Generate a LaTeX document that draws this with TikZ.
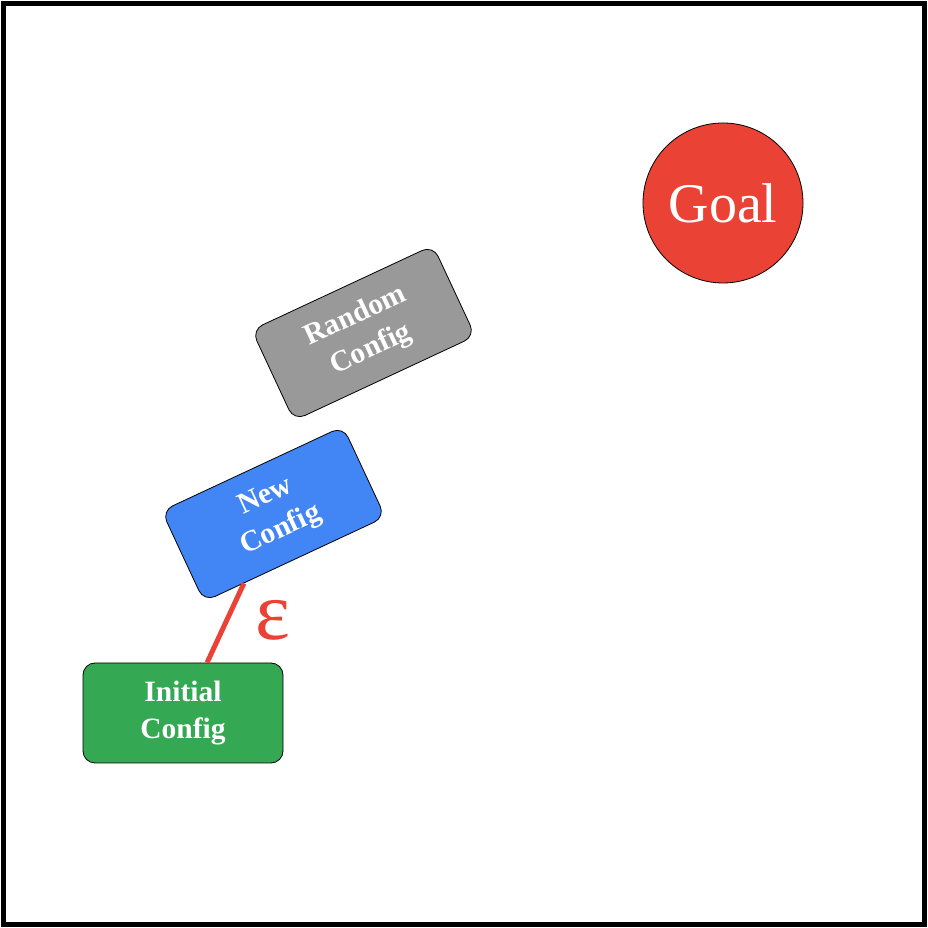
\documentclass[tikz,border=0pt]{standalone}
\usepackage{fontspec}
\setmainfont{Liberation Serif}
\usetikzlibrary{calc}
\definecolor{ggreen}{HTML}{34A853}
\definecolor{gblue}{HTML}{4285F4}
\definecolor{ggray}{HTML}{999999}
\definecolor{gred}{HTML}{EA4335}
\begin{document}
\begin{tikzpicture}[x=1pt,y=1pt,
  cfgbox/.style={draw=black, line width=0.8pt, rounded corners=12pt, minimum width=200pt, minimum height=100pt,
    inner sep=0pt, align=center, text=white, font=\fontsize{29.5}{37}\selectfont\bfseries},
  goalnode/.style={circle, draw=black, line width=0.8pt, fill=gred, minimum size=160pt, inner sep=0pt,
    text=white, font=\fontsize{56}{60}\selectfont},
  edgeline/.style={draw=gred, line width=5pt}]
\useasboundingbox (0,0) rectangle (928,928);
\fill[white] (0,0) rectangle (928,928);
\draw[line width=5pt] (3.5,3.5) rectangle (924.5,924.5);
\node[goalnode] (goal) at (723,725) {Goal};
\node[cfgbox, fill=ggray, rotate=25] (rc) at (363.5,595) {Random\\Config};
\node[cfgbox, fill=ggreen] (ic) at (183,215) {Initial\\Config};
\coordinate (a) at ($(ic.north)!0.24!(ic.north east)$);
\node[cfgbox, fill=gblue, rotate=25] (nc) at (273.5,414) {New\\Config};
\coordinate (b) at ($(nc.south)!0.56!(nc.south west)$);
\draw[edgeline] (a) -- (b);
\node[text=gred, font=\fontsize{83}{83}\selectfont] (eps) at (273,308) {ε};
\end{tikzpicture}
\end{document}
